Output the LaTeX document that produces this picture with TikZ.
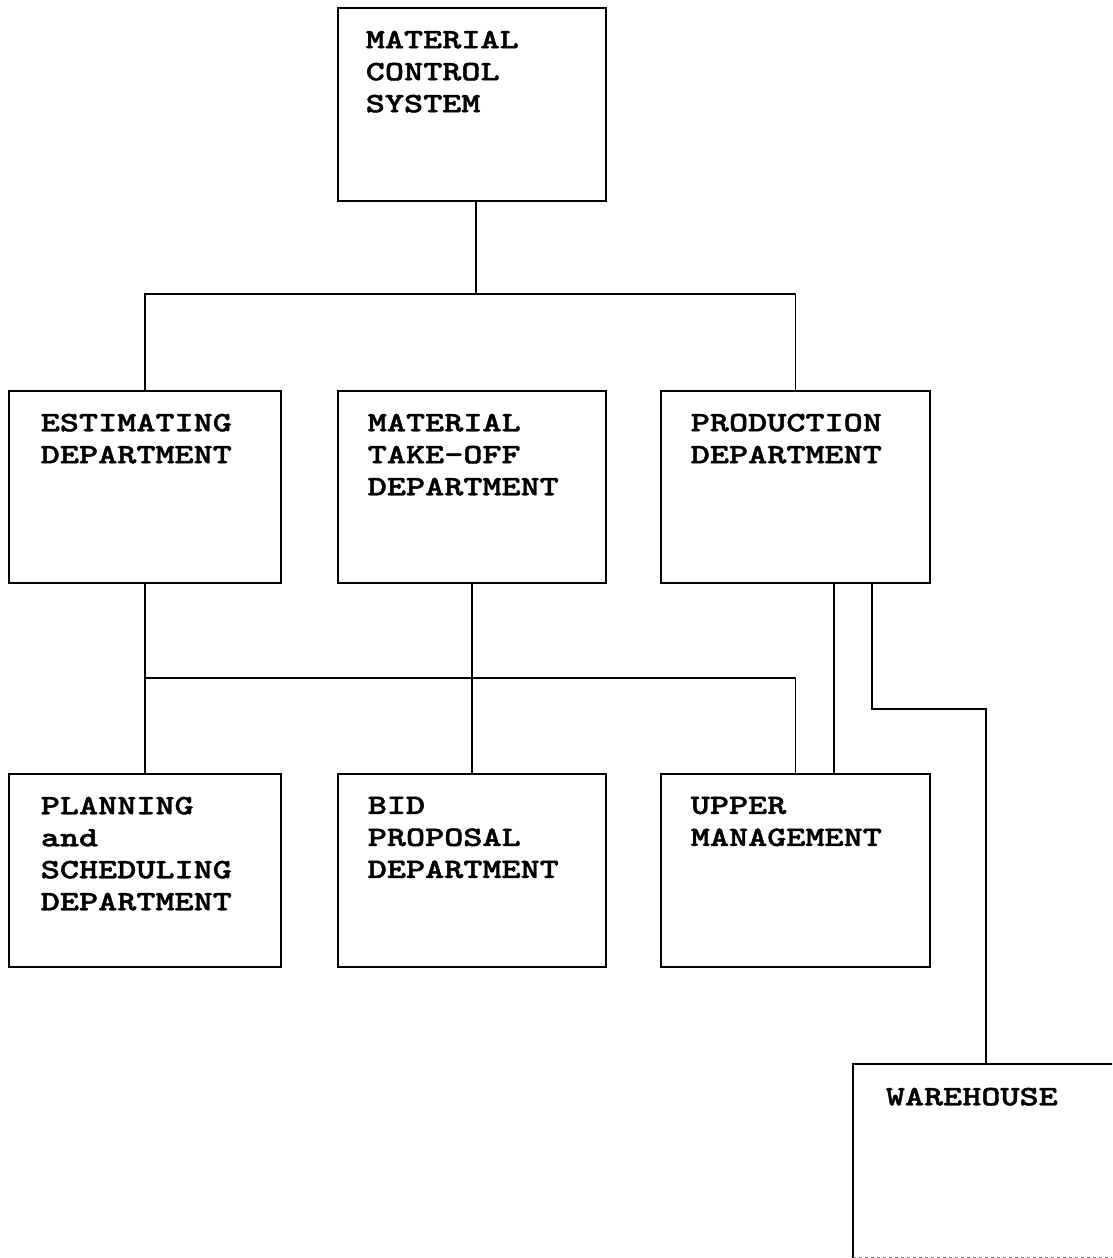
\documentclass[tikz,border=0pt]{standalone}
\usepackage{fontspec}
\newfontfamily\twfont{lmmonolt10-bold.otf}[FakeStretch=1.3,FakeBold=1.5]
\begin{document}
\begin{tikzpicture}[x=1pt,y=-1pt,line width=1.6pt,
  box/.style={rectangle,draw,inner sep=0pt,anchor=north west,minimum height=192pt},
  lbl/.style={anchor=north west,inner sep=0pt,align=left,font=\twfont\fontsize{28}{32}\selectfont}]
\clip (0,0) rectangle (1112,1258);
\fill[white] (0,0) rectangle (1112,1258);
% boxes
\node[box,minimum width=268pt,minimum height=193pt] (mcs) at (337,7) {};
\node[box,minimum width=272pt] (est) at (8,390) {};
\node[box,minimum width=268pt] (mto) at (337,390) {};
\node[box,minimum width=269pt] (prod) at (660,390) {};
\node[box,minimum width=272pt,minimum height=193pt] (plan) at (8,773) {};
\node[box,minimum width=268pt,minimum height=193pt] (bid) at (337,773) {};
\node[box,minimum width=269pt,minimum height=193pt] (um) at (660,773) {};
\node[box,draw=none,minimum width=264pt] (wh) at (853,1064) {};
\draw (wh.south west) -- (wh.north west) -- (wh.north east);
\draw[dashed,line width=1pt,gray] (wh.south west) -- (wh.south east);
% labels
\node[lbl] (tmcs) at ([xshift=28pt,yshift=-23pt]mcs.north west) {MATERIAL\\CONTROL\\SYSTEM};
\node[lbl] (test) at ([xshift=32pt,yshift=-23pt]est.north west) {ESTIMATING\\DEPARTMENT};
\node[lbl] (tmto) at ([xshift=30pt,yshift=-23pt]mto.north west) {MATERIAL\\TAKE-OFF\\DEPARTMENT};
\node[lbl] (tprod) at ([xshift=30pt,yshift=-23pt]prod.north west) {PRODUCTION\\DEPARTMENT};
\node[lbl] (tplan) at ([xshift=32pt,yshift=-23pt]plan.north west) {PLANNING\\and\\SCHEDULING\\DEPARTMENT};
\node[lbl] (tbid) at ([xshift=30pt,yshift=-23pt]bid.north west) {BID\\PROPOSAL\\DEPARTMENT};
\node[lbl] (tum) at ([xshift=30pt,yshift=-23pt]um.north west) {UPPER\\MANAGEMENT};
\node[lbl] (twh) at ([xshift=32pt,yshift=-23pt]wh.north west) {WAREHOUSE};
% connectors
\coordinate (bus) at (0,294);
\coordinate (bustwo) at (0,678);
\coordinate (jog) at (0,709);
\draw ([xshift=4pt]mcs.south) -- ([xshift=4pt]mcs.south |- bus);
\draw (est.north) -- (est.north |- bus) -| (prod.north);
\draw (est.south) -- (plan.north);
\draw (mto.south) -- (bid.north);
\draw (est.south |- bustwo) -| (um.north);
\draw ([xshift=174pt]prod.south west) -- ([xshift=174pt]um.north west);
\draw ([xshift=212pt]prod.south west) |- (wh.north |- jog) -- (wh.north);
\end{tikzpicture}
\end{document}
